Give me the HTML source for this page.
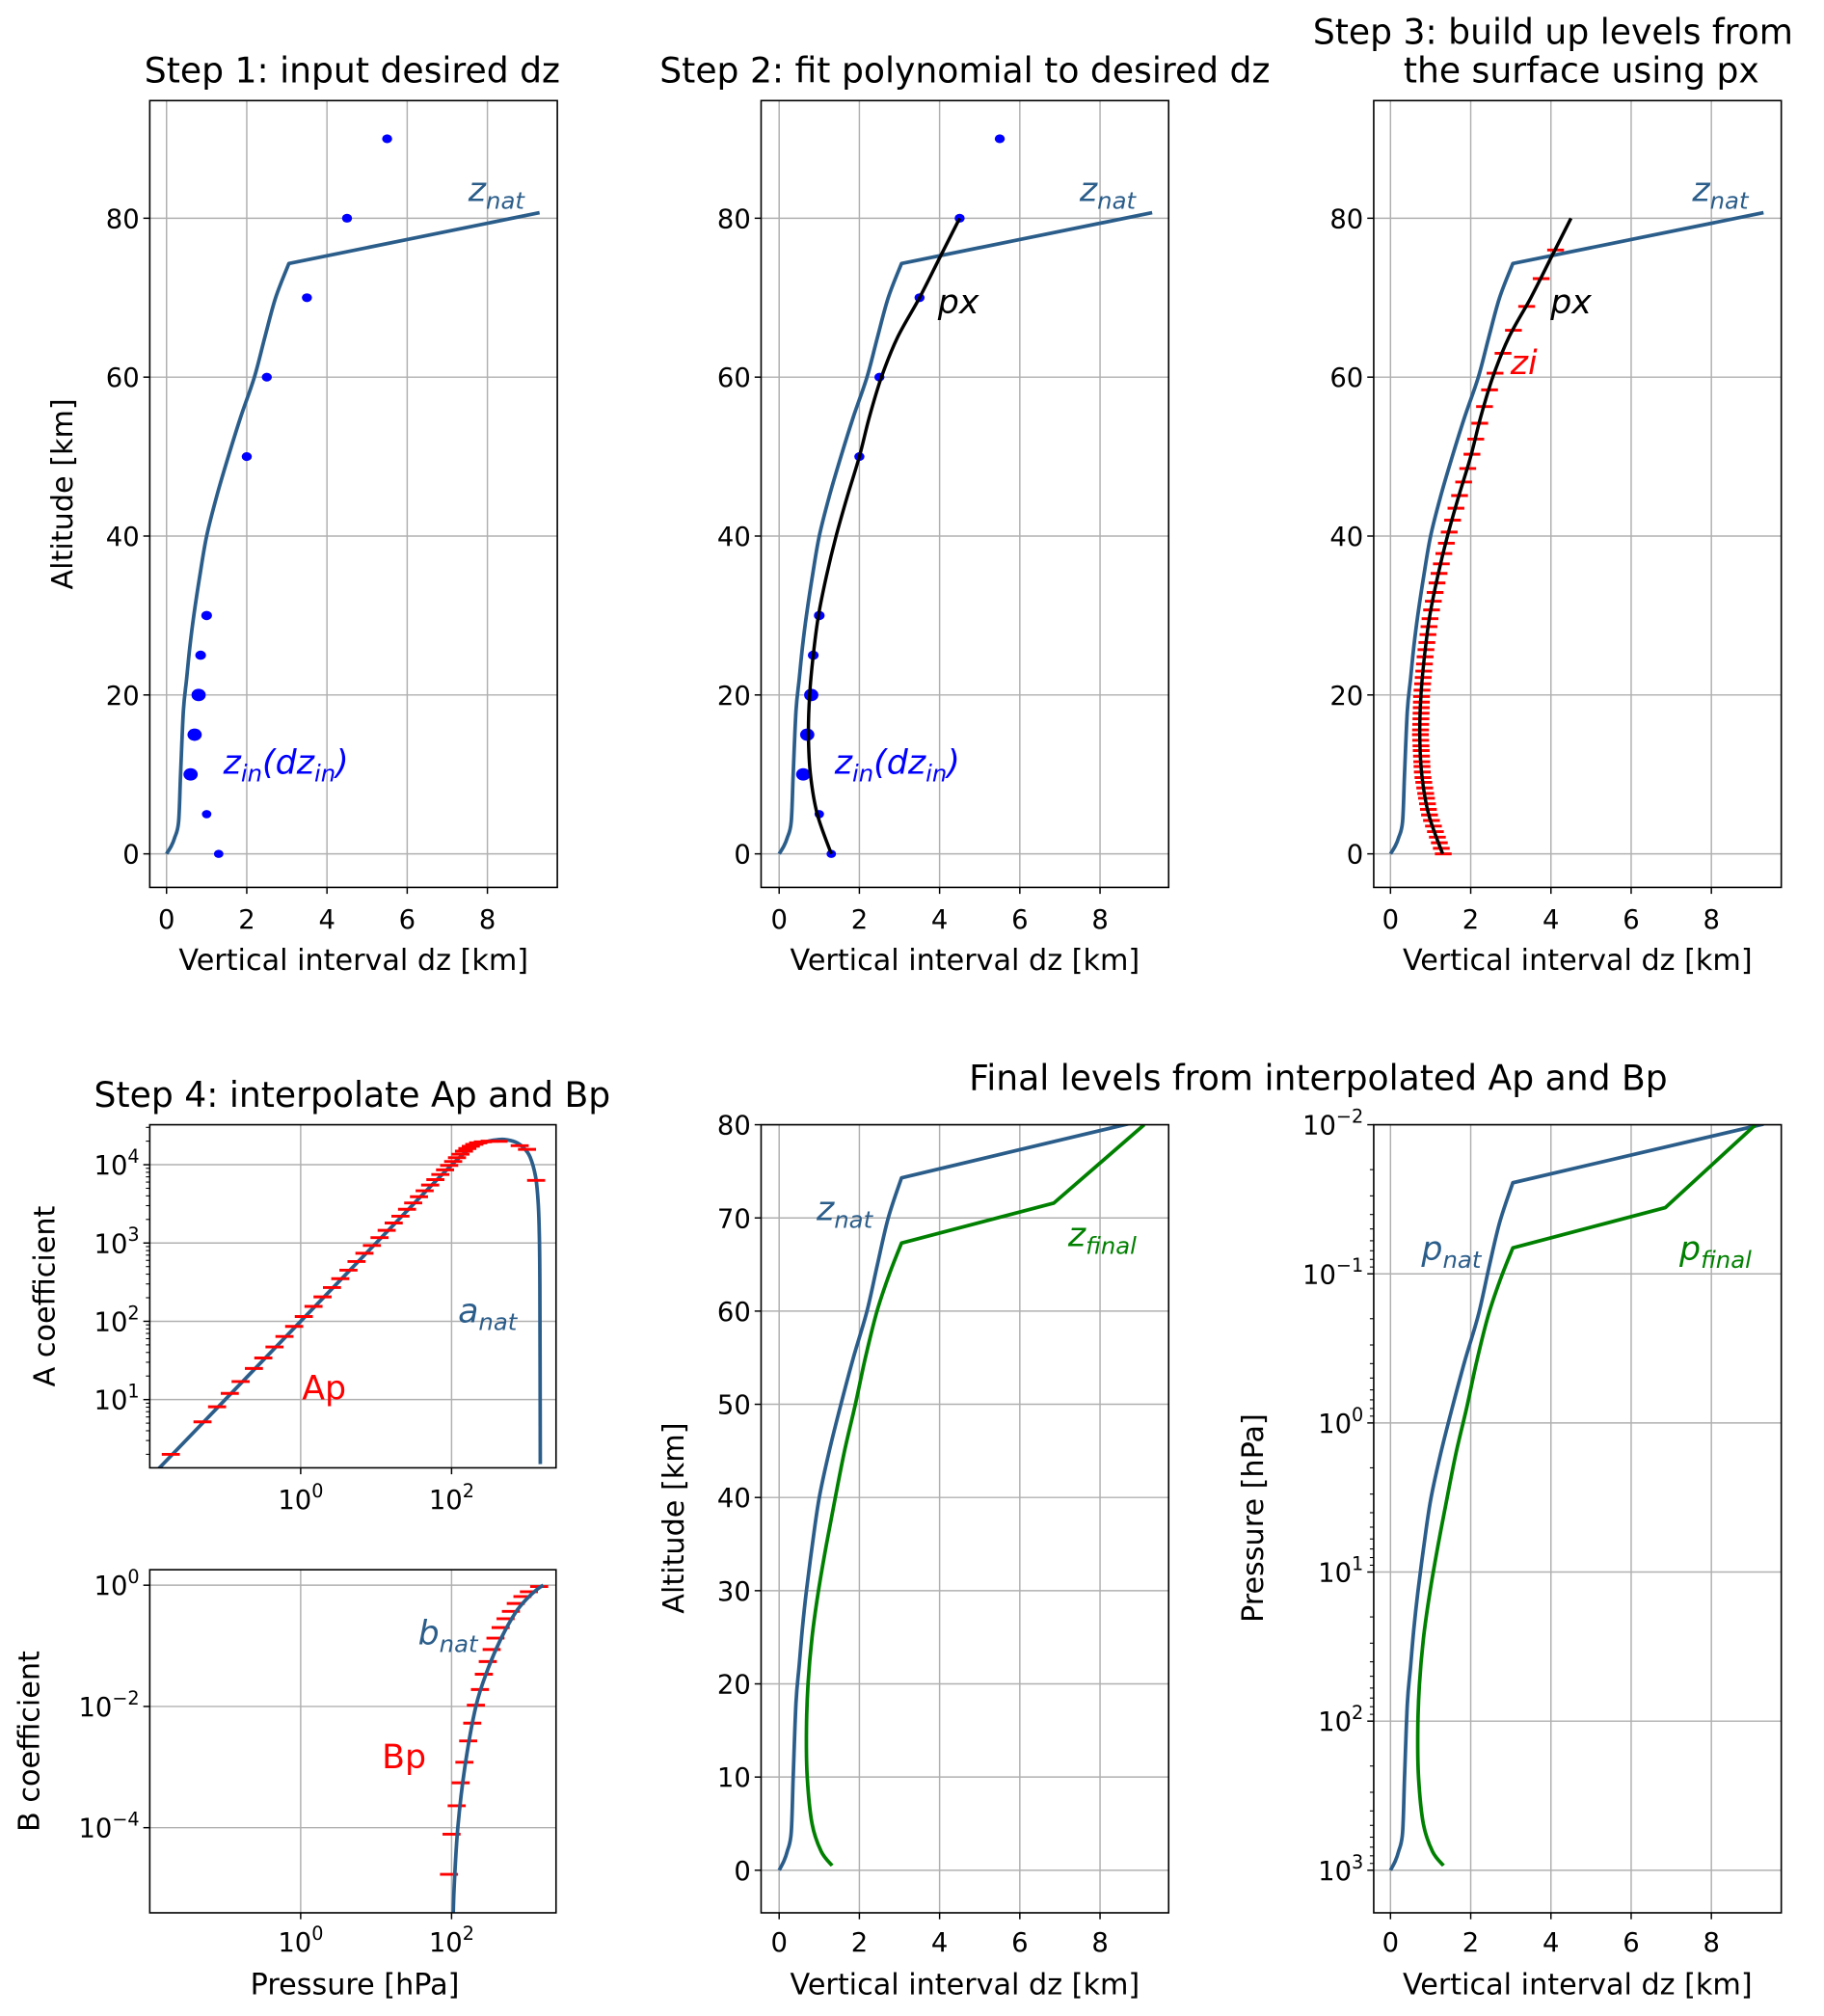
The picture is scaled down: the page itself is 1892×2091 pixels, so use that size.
<!DOCTYPE html>
<html><head><meta charset="utf-8">
<style>
html,body{margin:0;padding:0;background:#fff;}
svg{display:block;}
text{font-family:"DejaVu Sans","Liberation Sans",sans-serif;}
</style></head>
<body>
<svg id="fig" xmlns="http://www.w3.org/2000/svg" width="1892" height="2091" viewBox="0 0 1414 1563">
<rect x="0" y="0" width="1414" height="1563" fill="#fff"/>
</svg>
<script>
// ---- data ----
var zNatZ  = [0,1,2,4,10,18,22,26,30,35,40,45,50,55,60,65,70,74.3,80.7];
var zNatDz = [0,0.12,0.2,0.3,0.35,0.42,0.5,0.58,0.68,0.83,1.0,1.25,1.54,1.85,2.19,2.45,2.72,3.05,9.3];
var inZ    = [0,5,10,15,20,25,30,50,60,70,80,90];
var inDz   = [1.3,1.0,0.6,0.7,0.8,0.85,1.0,2.0,2.5,3.5,4.5,5.5];
var inSize = [3.2,3.2,4.8,4.8,4.8,3.6,3.6,3.4,3.4,3.4,3.4,3.4];
var pxZ    = [0,5,10,15,20,25,30,35,40,45,50,55,60,65,70,75,80];
var pxDz   = [1.3,0.95,0.78,0.73,0.76,0.85,0.98,1.18,1.42,1.7,2.0,2.25,2.55,2.95,3.5,4.0,4.5];
var ziLevels = [0,0.7,1.4,2.1,2.8,3.5,4.2,4.9,5.6,6.3,7.0,7.6,8.3,9.0,9.6,10.3,11.0,11.6,12.3,13.0,13.6,14.3,15.0,15.6,16.3,17.0,17.7,18.4,19.1,19.8,20.6,21.4,22.2,23.0,23.9,24.8,25.7,26.6,27.6,28.6,29.6,30.7,31.8,32.9,34.1,35.3,36.5,37.8,39.1,40.5,42.0,43.5,45.1,46.8,48.5,50.3,52.2,54.2,56.3,58.4,60.5,63.0,65.9,68.9,72.4,76.0];
var aNatP = [0.01,0.1,1,10,100,200,300,400,500,700,900,1100,1300,1400,1450,1480,1500];
var aNatA = [1,10,100,1000,9900,17000,19800,20800,21000,19500,16500,12500,7000,3500,1500,300,1.5];
var apP = [0.019,0.05,0.078,0.115,0.16,0.24,0.32,0.45,0.61,0.82,1.1,1.48,1.95,2.6,3.35,4.3,5.5,7.0,8.8,11.1,13.8,17.1,21,25.7,31,37,44,52,61,71,82,93,105,118,131,146,162,180,200,225,260,320,420,800,1000,1320];
var apA = [2.0,5.2,8.1,12,17,25,34,47,64,86,115,155,205,270,350,450,580,740,930,1170,1450,1800,2200,2700,3250,3900,4650,5500,6450,7500,8600,9800,11000,12300,13600,14900,16100,17200,18200,19000,19600,20000,19900,17500,15700,6300];
var bNatP = [104,108,121,150,210,300,450,700,1000,1400,1650];
var bNatB = [2e-6,1e-5,1e-4,1e-3,1e-2,0.04,0.13,0.35,0.6,0.88,1];
var bpP = [92.5,100,117,132,148,166,188,210,238,268,302,340,382,447,520,612,710,870,1060,1450];
var bpB = [1.7e-5,7.8e-5,2.3e-4,5.5e-4,1.2e-3,2.7e-3,5.3e-3,0.0105,0.019,0.034,0.055,0.087,0.134,0.2,0.28,0.37,0.5,0.65,0.78,0.95];
var zFinZ  = [0.5,2,5,10,15,20,25,30,35,40,45,50,55,60,64,67.3,71.6,80];
var zFinDz = [1.32,1.05,0.82,0.7,0.68,0.72,0.82,0.98,1.18,1.4,1.63,1.9,2.15,2.44,2.75,3.05,6.85,9.1];
var pNatP  = [1000,867,751,565,240,76.5,43.2,24.4,13.8,6.74,3.30,1.61,0.79,0.386,0.189,0.092,0.0454,0.0245,0.0099];
var pFinP  = [931,751,490,240,117,57.4,28.1,13.8,6.74,3.30,1.61,0.79,0.386,0.189,0.107,0.067,0.036,0.0100];
var dzTicks = [0,2,4,6,8];
var altTicksTop = [0,20,40,60,80];
var altTicksP5 = [0,10,20,30,40,50,60,70,80];

var NS="http://www.w3.org/2000/svg";
var svg=document.getElementById('fig');
var BLUE="#2b5d8a", GREEN="#008000", RED="#ff0000";
var TICK=20.5, LAB=22.6, TITLE=27, ANN=26;
function mk(tag,attrs,parent){var e=document.createElementNS(NS,tag);for(var k in attrs)e.setAttribute(k,attrs[k]);(parent||svg).appendChild(e);return e;}
function log10(v){return Math.log(v)/Math.LN10;}
var clipN=0;
function panel(name,x0,y0,x1,y1){
  var g=mk('g',{});
  
  
  var id='c'+(clipN++);
  var cp=mk('clipPath',{id:id},g);mk('rect',{x:x0,y:y0,width:x1-x0,height:y1-y0},cp);
  var grid=mk('g',{},g);
  var data=mk('g',{'clip-path':'url(#'+id+')'},g);
  var frame=mk('rect',{x:x0,y:y0,width:x1-x0,height:y1-y0,fill:'none',stroke:'#000','stroke-width':1.2},g);
  
  
  return {g:g,grid:grid,data:data,x0:x0,y0:y0,x1:x1,y1:y1};
}
function vgrid(P,x,label,ly,sup){
  mk('line',{x1:x,x2:x,y1:P.y0,y2:P.y1,stroke:'#b0b0b0','stroke-width':1.1},P.grid);
  mk('line',{x1:x,x2:x,y1:P.y1,y2:P.y1+5,stroke:'#000','stroke-width':1.1},P.g);
  var t=mk('text',{x:x,y:ly,'font-size':TICK,'text-anchor':'middle',fill:'#000'},P.g);
  
  
  if(sup!==undefined){var b=mk('tspan',{},t);b.textContent='10';var s=mk('tspan',{dy:-9,'font-size':TICK*0.7},t);s.textContent=sup;}
  else t.textContent=label;
}
function hgrid(P,y,label,sup){
  mk('line',{x1:P.x0,x2:P.x1,y1:y,y2:y,stroke:'#b0b0b0','stroke-width':1.1},P.grid);
  mk('line',{x1:P.x0-5,x2:P.x0,y1:y,y2:y,stroke:'#000','stroke-width':1.1},P.g);
  var t=mk('text',{x:P.x0-8,y:y+7.5,'font-size':TICK,'text-anchor':'end',fill:'#000'},P.g);
  
  
  if(sup!==undefined){var b=mk('tspan',{},t);b.textContent='10';var s=mk('tspan',{dy:-9,'font-size':TICK*0.7},t);s.textContent=sup;}
  else t.textContent=label;
}
function minorY(P,yfn,dec0,dec1){
  for(var d=dec0;d<=dec1;d++)for(var m=2;m<=9;m++){var y=yfn(m*Math.pow(10,d));if(y>P.y0&&y<P.y1)mk('line',{x1:P.x0-3,x2:P.x0,y1:y,y2:y,stroke:'#000','stroke-width':0.8},P.g);}
}
function smoothD(xs,ys,breaks){
  breaks=breaks||[];
  var d='M'+xs[0].toFixed(2)+' '+ys[0].toFixed(2);
  for(var i=0;i<xs.length-1;i++){
    var i0=(i===0||breaks.indexOf(i)>=0)?i:i-1;
    var i3=(i+2>=xs.length||breaks.indexOf(i+1)>=0)?i+1:i+2;
    if(breaks.indexOf(i)>=0&&breaks.indexOf(i+1)>=0){d+='L'+xs[i+1].toFixed(2)+' '+ys[i+1].toFixed(2);continue;}
    var c1x=xs[i]+(xs[i+1]-xs[i0])/6, c1y=ys[i]+(ys[i+1]-ys[i0])/6;
    var c2x=xs[i+1]-(xs[i3]-xs[i])/6, c2y=ys[i+1]-(ys[i3]-ys[i])/6;
    d+='C'+c1x.toFixed(2)+' '+c1y.toFixed(2)+' '+c2x.toFixed(2)+' '+c2y.toFixed(2)+' '+xs[i+1].toFixed(2)+' '+ys[i+1].toFixed(2);
  }
  return d;
}
function path(P,xs,ys,color,w,name,breaks){
  var p=mk('path',{d:smoothD(xs,ys,breaks),fill:'none',stroke:color,'stroke-width':w,'stroke-linejoin':'round'},P.data);
  
  
  return p;
}
function txt(x,y,s,size,color,name,opts){
  var t=mk('text',{x:x,y:y,'font-size':size,fill:color,'text-anchor':(opts&&opts.anchor)||'middle'});
  if(opts&&opts.rot)t.setAttribute('transform','rotate(-90 '+x+' '+y+')');
  if(opts&&opts.italic)t.setAttribute('font-style','italic');
  
  
  t.textContent=s;return t;
}
function subLabel(x,y,base,sub,color,name,size,rest){
  var t=mk('text',{x:x,y:y,'font-size':size,fill:color,'font-style':'italic'});
  
  
  var a=mk('tspan',{},t);a.textContent=base;
  var b=mk('tspan',{dy:6,'font-size':size*0.7},t);b.textContent=sub;
  if(rest){for(var i=0;i<rest.length;i++){var r=mk('tspan',{dy:rest[i][2],'font-size':rest[i][1]},t);r.textContent=rest[i][0];}}
  return t;
}
function interp(xs,ys,x){for(var i=0;i<xs.length-1;i++){if(x>=xs[i]&&x<=xs[i+1]){var f=(x-xs[i])/(xs[i+1]-xs[i]);return ys[i]+f*(ys[i+1]-ys[i]);}}return ys[ys.length-1];}
function mapArr(a,f){return a.map(f);}
var natBreaks=[17], finBreaks=[15,16];
var LW=2.8;

// ---- top row ----
var topX0=[129,604,1078], topL=[116,590,1065];
function topPanel(k,name){
  var xz=topX0[k];
  var P=panel(name,topL[k],78,topL[k]+316,688);
  P.xs=function(v){return xz+v*31.1;};
  P.ys=function(v){return 662-v*6.16;};
  dzTicks.forEach(function(v){vgrid(P,P.xs(v),String(v),720);});
  altTicksTop.forEach(function(v){hgrid(P,P.ys(v),String(v));});
  txt(topL[k]+158,752,'Vertical interval dz [km]',LAB,'#000','x-axis-title');
  path(P,mapArr(zNatDz,P.xs),mapArr(zNatZ,P.ys),BLUE,LW,'z-nat-line',natBreaks);
  subLabel(topL[k]+247,156,'z','nat',BLUE,'z-nat-label',ANN);
  return P;
}
var P1=topPanel(0,'panel-step1');
var P2=topPanel(1,'panel-step2');
var P3=topPanel(2,'panel-step3');
txt(56,383,'Altitude [km]',LAB,'#000','y-axis-title',{rot:true});
txt(273,64,'Step 1: input desired dz',TITLE,'#000','title-step1');
txt(748,64,'Step 2: fit polynomial to desired dz',TITLE,'#000','title-step2');
txt(1204,34,'Step 3: build up levels from',TITLE,'#000','title-step3-line1');
txt(1226,64,'the surface using px',TITLE,'#000','title-step3-line2');

[P1,P2].forEach(function(P){
  for(var i=0;i<inZ.length;i++){
    var c=mk('ellipse',{cx:P.xs(inDz[i]),cy:P.ys(inZ[i]),rx:inSize[i]*1.15,ry:inSize[i],fill:'#0000ff'},P.data);
    
    
  }
  subLabel(P.x0+57,600,'z','in','#0000ff','z-in-label',ANN,[['(',ANN,-6],['dz',ANN,0],['in',ANN*0.7,6],[')',ANN,-6]]);
});
path(P2,mapArr(pxDz,P2.xs),mapArr(pxZ,P2.ys),'#000',2.6,'px-polynomial');
txt(P2.x0+137,243,'px',ANN,'#000','px-label',{italic:true,anchor:'start'});
ziLevels.forEach(function(z){
  var x=P3.xs(interp(pxZ,pxDz,z)), y=P3.ys(z);
  var l=mk('line',{x1:x-6,x2:x+7,y1:y,y2:y,stroke:RED,'stroke-width':2.2},P3.data);
  
  
});
path(P3,mapArr(pxDz,P3.xs),mapArr(pxZ,P3.ys),'#000',2.6,'px-polynomial');
txt(P3.x0+137,243,'px',ANN,'#000','px-label',{italic:true,anchor:'start'});
txt(P3.x0+106,290,'zi',ANN,RED,'zi-label',{italic:true,anchor:'start'});

// ---- step 4 ----
var lx=function(p){return 233+log10(p)*58.5;};
var PA=panel('panel-a-coefficient',116,872,431,1138);
PA.ys=function(a){return 903-(log10(a)-4)*60.7;};
[[1,'1'],[4,'4'],[3,'3'],[2,'2']].forEach(function(d){hgrid(PA,PA.ys(Math.pow(10,d[0])),null,d[1]);});
minorY(PA,PA.ys,0,4);
vgrid(PA,lx(1),null,1170,'0');vgrid(PA,lx(100),null,1170,'2');
path(PA,mapArr(aNatP,lx),mapArr(aNatA,PA.ys),BLUE,LW,'a-nat-line');
for(var i=0;i<apP.length;i++){var x=lx(apP[i]),y=PA.ys(apA[i]);var l=mk('line',{x1:x-7,x2:x+7,y1:y,y2:y,stroke:RED,'stroke-width':2.2},PA.data);
  
  }
subLabel(355,1025,'a','nat',BLUE,'a-nat-label',ANN);
txt(234,1085,'Ap',ANN,RED,'ap-label',{anchor:'start'});
txt(42,1005,'A coefficient',LAB,'#000','y-axis-title-a',{rot:true});
txt(273,858,'Step 4: interpolate Ap and Bp',TITLE,'#000','title-step4');

var PB=panel('panel-b-coefficient',116,1217,431,1483);
PB.ys=function(b){return 1229-log10(b)*47;};
[[0,'0'],[-2,'\u22122'],[-4,'\u22124']].forEach(function(d){hgrid(PB,PB.ys(Math.pow(10,d[0])),null,d[1]);});
vgrid(PB,lx(1),null,1513,'0');vgrid(PB,lx(100),null,1513,'2');
for(var i=0;i<bpP.length;i++){var x=lx(bpP[i]),y=PB.ys(bpB[i]);var l=mk('line',{x1:x-7,x2:x+7,y1:y,y2:y,stroke:RED,'stroke-width':2.2},PB.data);
  
  }
path(PB,mapArr(bNatP,lx),mapArr(bNatB,PB.ys),BLUE,LW,'b-nat-line');
subLabel(324,1275,'b','nat',BLUE,'b-nat-label',ANN);
txt(296,1371,'Bp',ANN,RED,'bp-label',{anchor:'start'});
txt(30,1350,'B coefficient',LAB,'#000','y-axis-title-b',{rot:true});
txt(275,1546,'Pressure [hPa]',LAB,'#000','x-axis-title-pressure');

// ---- final levels ----
txt(1022,845,'Final levels from interpolated Ap and Bp',TITLE,'#000','title-final');
var P5=panel('panel-final-altitude',590,872,906,1483);
P5.xs=function(v){return 604+v*31.1;};
P5.ys=function(v){return 1450-v*7.225;};
dzTicks.forEach(function(v){vgrid(P5,P5.xs(v),String(v),1513);});
altTicksP5.forEach(function(v){hgrid(P5,P5.ys(v),String(v));});
path(P5,mapArr(zNatDz,P5.xs),mapArr(zNatZ,P5.ys),BLUE,LW,'z-nat-line',natBreaks);
path(P5,mapArr(zFinDz,P5.xs),mapArr(zFinZ,P5.ys),GREEN,LW,'z-final-line',finBreaks);
subLabel(633,946,'z','nat',BLUE,'z-nat-label',ANN);
subLabel(828,966,'z','final',GREEN,'z-final-label',ANN);
txt(748,1546,'Vertical interval dz [km]',LAB,'#000','x-axis-title');
txt(530,1177,'Altitude [km]',LAB,'#000','y-axis-title',{rot:true});

var P6=panel('panel-final-pressure',1065,872,1381,1483);
P6.xs=function(v){return 1078+v*31.1;};
P6.ys=function(p){return 872+(log10(p)+2)*115.6;};
dzTicks.forEach(function(v){vgrid(P6,P6.xs(v),String(v),1513);});
[[-2,'\u22122'],[-1,'\u22121'],[0,'0'],[1,'1'],[2,'2'],[3,'3']].forEach(function(d){hgrid(P6,P6.ys(Math.pow(10,d[0])),null,d[1]);});
minorY(P6,P6.ys,-2,3);
path(P6,mapArr(zNatDz,P6.xs),mapArr(pNatP,P6.ys),BLUE,LW,'p-nat-line',natBreaks);
path(P6,mapArr(zFinDz,P6.xs),mapArr(pFinP,P6.ys),GREEN,LW,'p-final-line',finBreaks);
subLabel(1102,977,'p','nat',BLUE,'p-nat-label',ANN);
subLabel(1302,977,'p','final',GREEN,'p-final-label',ANN);
txt(1223,1546,'Vertical interval dz [km]',LAB,'#000','x-axis-title');
txt(979,1177,'Pressure [hPa]',LAB,'#000','y-axis-title',{rot:true});
</script>
</body></html>
